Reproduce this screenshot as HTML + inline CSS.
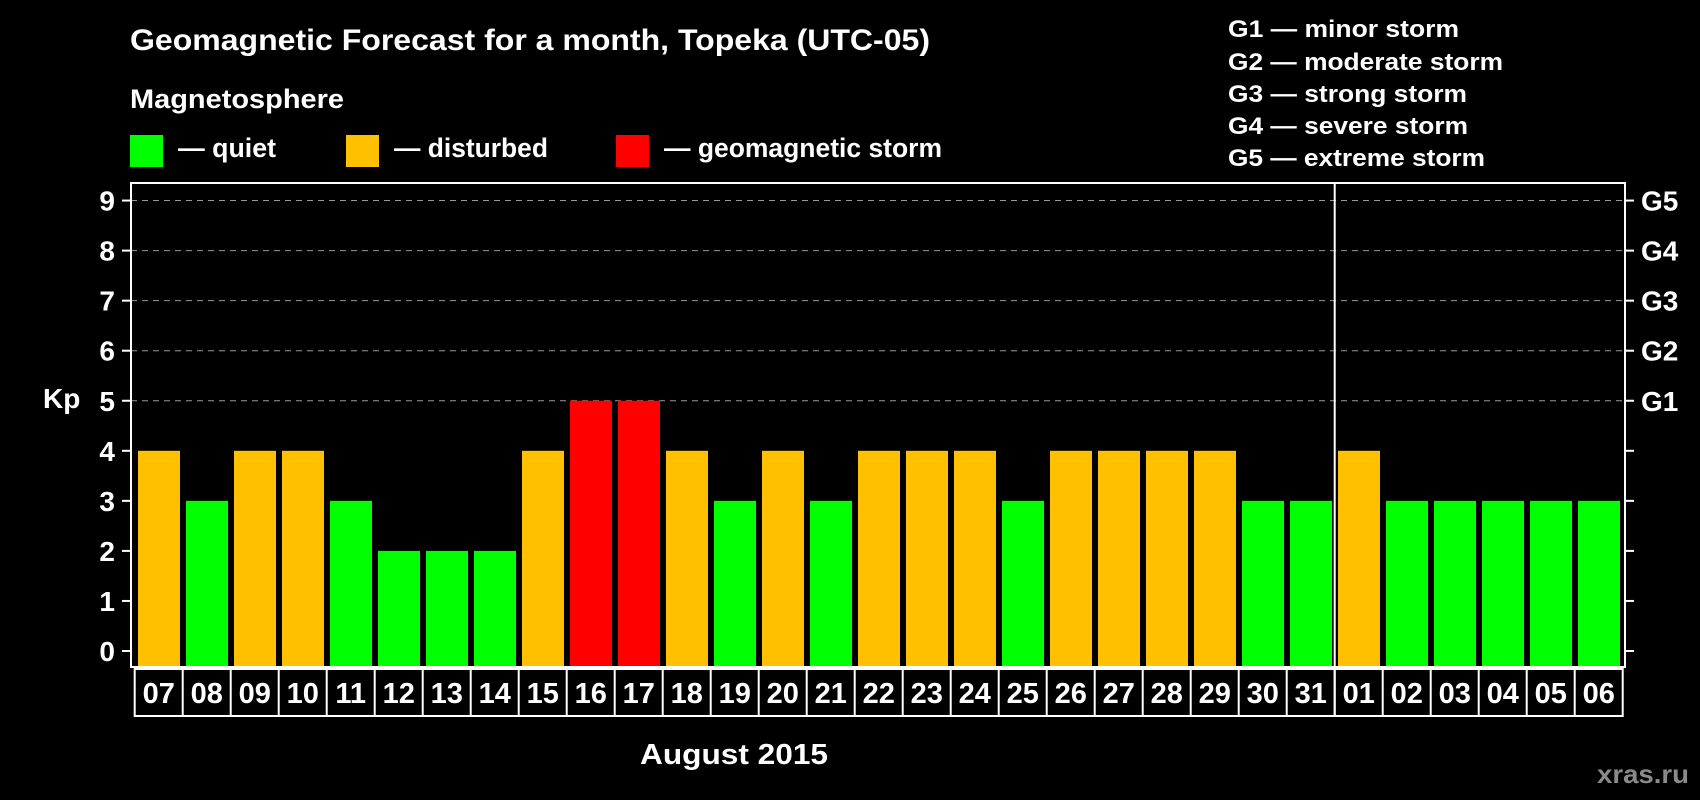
<!DOCTYPE html>
<html><head><meta charset="utf-8"><style>
html,body{margin:0;padding:0;background:#000;}
svg{display:block;font-family:"Liberation Sans",Arial,sans-serif;font-weight:bold;}
</style></head><body>
<svg id="chart" width="1700" height="800" viewBox="0 0 1700 800" xmlns="http://www.w3.org/2000/svg">
<rect width="1700" height="800" fill="#000"/>
<text x="130" y="50" fill="#fff" font-size="30" textLength="800" lengthAdjust="spacingAndGlyphs">Geomagnetic Forecast for a month, Topeka (UTC-05)</text>
<text x="130" y="108" fill="#fff" font-size="27" textLength="214" lengthAdjust="spacingAndGlyphs">Magnetosphere</text>
<rect x="130" y="135" width="33" height="32" fill="#00ff00"/>
<text x="178" y="157" fill="#fff" font-size="27" textLength="98" lengthAdjust="spacingAndGlyphs">— quiet</text>
<rect x="346" y="135" width="33" height="32" fill="#ffc000"/>
<text x="394" y="157" fill="#fff" font-size="27" textLength="154" lengthAdjust="spacingAndGlyphs">— disturbed</text>
<rect x="616" y="135" width="33" height="32" fill="#ff0000"/>
<text x="664" y="157" fill="#fff" font-size="27" textLength="278" lengthAdjust="spacingAndGlyphs">— geomagnetic storm</text>
<g fill="#fff" font-size="24">
<text x="1228" y="37" textLength="231" lengthAdjust="spacingAndGlyphs">G1 — minor storm</text>
<text x="1228" y="70" textLength="275" lengthAdjust="spacingAndGlyphs">G2 — moderate storm</text>
<text x="1228" y="102" textLength="239" lengthAdjust="spacingAndGlyphs">G3 — strong storm</text>
<text x="1228" y="134" textLength="240" lengthAdjust="spacingAndGlyphs">G4 — severe storm</text>
<text x="1228" y="166" textLength="257" lengthAdjust="spacingAndGlyphs">G5 — extreme storm</text>
</g>
<text x="43" y="408" fill="#fff" font-size="28">Kp</text>
<text x="640" y="764" fill="#fff" font-size="29" textLength="188" lengthAdjust="spacingAndGlyphs">August 2015</text>
<text x="1597" y="783" fill="#8a8a8a" font-size="26" textLength="92" lengthAdjust="spacingAndGlyphs">xras.ru</text>
<g id="plot"></g>
</svg>
<script>
const days = ["07","08","09","10","11","12","13","14","15","16","17","18","19","20","21","22","23","24","25","26","27","28","29","30","31","01","02","03","04","05","06"];
const kpValues = [4,3,4,4,3,2,2,2,4,5,5,4,3,4,3,4,4,4,3,4,4,4,4,3,3,4,3,3,3,3,3];
const yTicks = [0,1,2,3,4,5,6,7,8,9];
const gLabels = ["G1","G2","G3","G4","G5"];
const gLevels = [5,6,7,8,9];
const monthBreakIndex = 25;

const NS = "http://www.w3.org/2000/svg";
const plotG = document.getElementById("plot");
const PL = 131, PR = 1625, PT = 183, PB = 667;
const slotStart = 134.7, slotW = 48, barW = 42;
function xPos(i){ return slotStart + i*slotW; }
function yPos(v){ return 651 - v*50.05; }
function colorFor(v){ return v >= 5 ? "#ff0000" : (v >= 4 ? "#ffc000" : "#00ff00"); }
function mk(tag, attrs){ const e=document.createElementNS(NS,tag); for(const k in attrs) e.setAttribute(k,attrs[k]); plotG.appendChild(e); return e; }

gLevels.forEach((lv,i)=>{
  const g = mk("line",{x1:PL,x2:PR,y1:yPos(lv),y2:yPos(lv),stroke:"#999","stroke-width":1,"stroke-dasharray":"6,5"});
  
  
  const t = mk("text",{x:1641,y:yPos(lv)+10,fill:"#fff","font-size":28});
  t.textContent = gLabels[i];
  
  
});

yTicks.forEach(v=>{
  const tk = mk("line",{x1:PL-9,x2:PL,y1:yPos(v),y2:yPos(v),stroke:"#fff","stroke-width":2});
  
  
  const tr = mk("line",{x1:PR,x2:PR+9,y1:yPos(v),y2:yPos(v),stroke:"#fff","stroke-width":2});
  
  
  const t = mk("text",{x:115,y:yPos(v)+10,fill:"#fff","font-size":28,"text-anchor":"end"});
  t.textContent = v;
  
  
});

kpValues.forEach((v,i)=>{
  const b = mk("rect",{x:xPos(i)+3.3,y:yPos(v),width:barW,height:PB-yPos(v),fill:colorFor(v)});
  
  
});

const frame = mk("rect",{x:PL,y:PT,width:PR-PL,height:PB-PT,fill:"none",stroke:"#fff","stroke-width":2});



const lb = mk("rect",{x:slotStart,y:669,width:slotW*days.length,height:47,fill:"none",stroke:"#fff","stroke-width":2});


days.forEach((d,i)=>{
  if(i>0){
    const s = mk("line",{x1:xPos(i),x2:xPos(i),y1:669,y2:716,stroke:"#fff","stroke-width":2});
    
    
  }
  const t = mk("text",{x:xPos(i)+slotW/2,y:703,fill:"#fff","font-size":29,"text-anchor":"middle"});
  t.textContent = d;
  
  
});

const mb = mk("line",{x1:xPos(monthBreakIndex),x2:xPos(monthBreakIndex),y1:PT,y2:716,stroke:"#fff","stroke-width":2});


</script>
</body></html>
